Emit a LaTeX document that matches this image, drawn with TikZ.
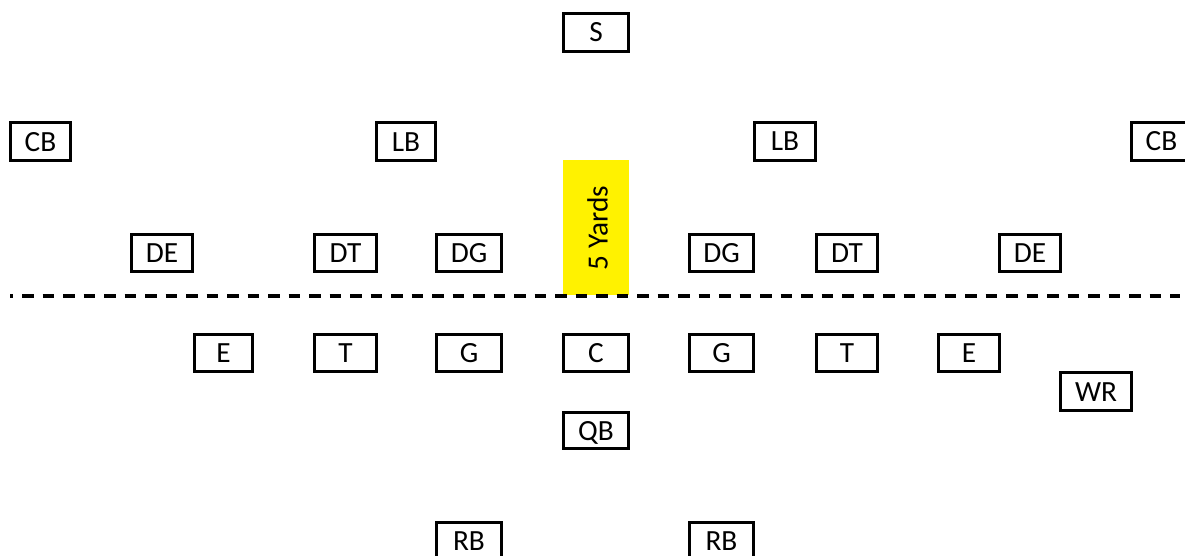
\documentclass[tikz,border=0pt]{standalone}
\usepackage{fontspec}
\setmainfont{Carlito}
\begin{document}
\begin{tikzpicture}[x=1pt,y=-1pt,
  pb/.style={draw=black,line width=3pt,fill=white,inner sep=0pt,minimum height=38pt,
    font=\fontsize{29.3}{35}\selectfont,text height=19pt,text depth=0pt},
  zone/.style={fill=yellow,draw=none,inner sep=0pt},
  los/.style={line width=3.5pt,dash pattern=on 11.5pt off 9pt,dash phase=8.5pt}]
\clip (0,0) rectangle (1185,556);
% five-yard zone
\node[zone,minimum width=66pt,minimum height=135pt] (zone) at (596,227.5) {};
\node[rotate=90,font=\fontsize{29.3}{35}\selectfont,inner sep=0pt] (zonetxt) at (597.5,228) {5 Yards};
% line of scrimmage
\coordinate (losl) at (10,296);
\coordinate (losr) at (1180,296);
\draw[los] (losl) -- (losr);
% defense
\node[pb,minimum width=65pt] (s) at (596,32.5) {S};
\node[pb,minimum width=60pt] (cbl) at (40.5,142) {CB};
\node[pb,minimum width=59pt] (lbl) at (406,142) {LB};
\node[pb,minimum width=61pt] (lbr) at (785,141.5) {LB};
\node[pb,minimum width=60pt] (cbr) at (1161.5,141.5) {CB};
\node[pb,minimum width=61pt,minimum height=37pt] (del) at (162,253) {DE};
\node[pb,minimum width=62pt,minimum height=37pt] (dtl) at (345.5,253) {DT};
\node[pb,minimum width=65pt,minimum height=37pt] (dgl) at (469,253) {DG};
\node[pb,minimum width=64pt,minimum height=37pt] (dgr) at (721.5,253) {DG};
\node[pb,minimum width=61pt,minimum height=37pt] (dtr) at (847,253) {DT};
\node[pb,minimum width=61pt,minimum height=37pt] (der) at (1030,253) {DE};
% offense
\node[pb,minimum width=58pt,minimum height=37pt] (el) at (223.5,353) {E};
\node[pb,minimum width=62pt,minimum height=37pt] (tl) at (345.5,353) {T};
\node[pb,minimum width=65pt,minimum height=37pt] (gl) at (469,353) {G};
\node[pb,minimum width=65pt,minimum height=37pt] (c) at (596,353) {C};
\node[pb,minimum width=64pt,minimum height=37pt] (gr) at (721.5,353) {G};
\node[pb,minimum width=61pt,minimum height=37pt] (tr) at (847,353) {T};
\node[pb,minimum width=61pt,minimum height=37pt] (er) at (969,353) {E};
\node[pb,minimum width=71pt] (wr) at (1096,391.5) {WR};
\node[pb,minimum width=65pt,minimum height=36pt] (qb) at (596,430.5) {QB};
\node[pb,minimum width=65pt,minimum height=37pt] (rbl) at (469,541) {RB};
\node[pb,minimum width=64pt,minimum height=37pt] (rbr) at (721.5,541) {RB};
\end{tikzpicture}
\end{document}
